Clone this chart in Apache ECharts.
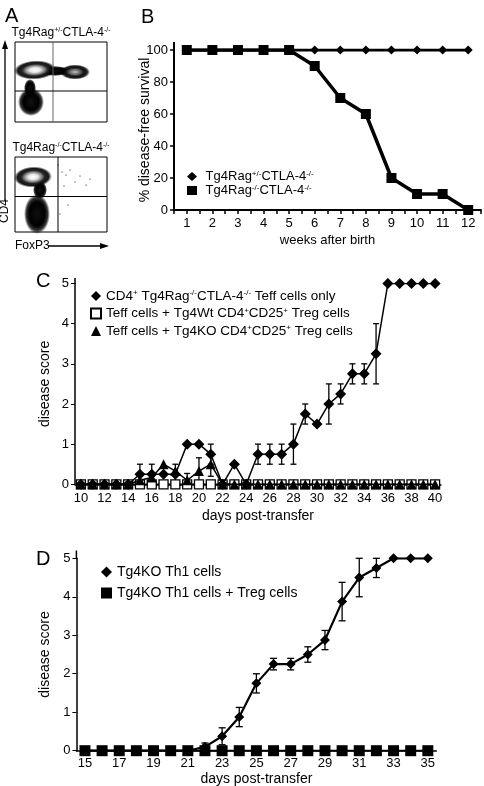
<!DOCTYPE html>
<html><head><meta charset="utf-8">
<script src="https://cdn.jsdelivr.net/npm/echarts@6/dist/echarts.min.js"></script>
<style>html,body{margin:0;padding:0;background:#fff}#c{width:484px;height:786px}</style>
</head><body><div id="c"></div>
<script>
const FONT = 'Liberation Sans, Arial, sans-serif';

// ---------- Panel B data ----------
const weeks = [1,2,3,4,5,6,7,8,9,10,11,12];
const survivalHet = [100,100,100,100,100,100,100,100,100,100,100,100];
const survivalKO  = [100,100,100,100,100,90,70,60,20,10,10,0];

// ---------- Panel C data ----------
const daysC = [10,11,12,13,14,15,16,17,18,19,20,21,22,23,24,25,26,27,28,29,30,31,32,33,34,35,36,37,38,39,40];
const teffOnly    = [0,0,0,0,0,0.25,0.25,0.25,0.25,1,1,0.75,0,0.5,0,0.75,0.75,0.75,1,1.75,1.5,2,2.25,2.75,2.75,3.25,5,5,5,5,5];
const teffOnlyErr = [0,0,0,0,0,0.25,0.25,0,0.25,0,0,0.25,0,0,0,0.25,0.25,0.25,0.5,0.25,0,0.5,0.25,0.25,0.25,0.75,0,0,0,0,0];
const teffWt      = [0,0,0,0,0,0,0,0,0,0,0,0,0,0,0,0,0,0,0,0,0,0,0,0,0,0,0,0,0,0,0];
const teffKO      = [0,0,0,0,0,0.1,0.17,0.5,0.33,0.1,0.33,0.5,0,0,0,0,0,0,0,0,0,0,0,0,0,0,0,0,0,0,0];
const teffKOErr   = [0,0,0,0,0,0,0,0,0,0.17,0.33,0.3,0,0,0,0,0,0,0,0,0,0,0,0,0,0,0,0,0,0,0];

// ---------- Panel D data ----------
const daysD = [15,16,17,18,19,20,21,22,23,24,25,26,27,28,29,30,31,32,33,34,35];
const th1      = [0,0,0,0,0,0,0,0.1,0.375,0.875,1.75,2.25,2.25,2.5,2.875,3.875,4.5,4.75,5,5,5];
const th1Err   = [0,0,0,0,0,0,0,0.1,0.22,0.25,0.25,0.15,0.15,0.2,0.25,0.5,0.5,0.25,0,0,0];
const th1Treg  = [0,0,0,0,0,0,0,0,0,0,0,0,0,0,0,0,0,0,0,0,0];

// names
const nB1 = 'Tg4Rag+/-CTLA-4-/-', nB2 = 'Tg4Rag-/-CTLA-4-/-';
const nC1 = 'CD4+ Tg4Rag-/-CTLA-4-/- Teff cells only';
const nC2 = 'Teff cells + Tg4Wt CD4+CD25+ Treg cells';
const nC3 = 'Teff cells + Tg4KO CD4+CD25+ Treg cells';
const nD1 = 'Tg4KO Th1 cells', nD2 = 'Tg4KO Th1 cells + Treg cells';
const richNames = {};
richNames[nB1] = ' Tg4Rag{s|+/-}CTLA-4{s|-/-}';
richNames[nB2] = ' Tg4Rag{s|-/-}CTLA-4{s|-/-}';
richNames[nC1] = 'CD4{s|+} Tg4Rag{s|-/-}CTLA-4{s|-/-} Teff cells only';
richNames[nC2] = 'Teff cells + Tg4Wt CD4{s|+}CD25{s|+} Treg cells';
richNames[nC3] = 'Teff cells + Tg4KO CD4{s|+}CD25{s|+} Treg cells';
richNames[nD1] = nD1; richNames[nD2] = nD2;

const sup = (fs) => ({ s: { fontSize: fs, lineHeight: fs, verticalAlign: 'top', fontFamily: FONT, color: '#000' } });

function errSeries(xi, yi, vals, errs, capW, lw) {
  const data = vals.map((v, i) => [i, v, errs[i]]).filter(d => d[2] > 0);
  return {
    type: 'custom', xAxisIndex: xi, yAxisIndex: yi, z: 1, silent: true,
    data: data, encode: { x: 0, y: 1 },
    renderItem: function (params, api) {
      const i = api.value(0), v = api.value(1), e = api.value(2);
      const t = api.coord([i, v + e]), b = api.coord([i, v - e]);
      const st = { stroke: '#000', lineWidth: lw };
      return { type: 'group', children: [
        { type: 'line', shape: { x1: t[0], y1: t[1], x2: b[0], y2: b[1] }, style: st },
        { type: 'line', shape: { x1: t[0] - capW, y1: t[1], x2: t[0] + capW, y2: t[1] }, style: st },
        { type: 'line', shape: { x1: b[0] - capW, y1: b[1], x2: b[0] + capW, y2: b[1] }, style: st }
      ]};
    }
  };
}

const axLine = (w) => ({ show: true, lineStyle: { color: '#000', width: w } });
const lbl = (fs, extra) => Object.assign({ color: '#000', fontSize: fs, fontFamily: FONT }, extra || {});

// flow blob helper
function blob(cx, cy, rx, ry, rot, stops) {
  return { type: 'circle', x: cx, y: cy, scaleX: rx / ry, scaleY: 1, rotation: rot || 0,
    shape: { cx: 0, cy: 0, r: ry }, silent: true,
    style: { fill: new echarts.graphic.RadialGradient(0.5, 0.5, 0.5, stops.map(s => ({ offset: s[0], color: s[1] }))) } };
}
const whiteCore = [[0,'#ffffff'],[0.25,'#e6e6e6'],[0.45,'#8a8a8a'],[0.62,'#222'],[0.82,'rgba(0,0,0,0.9)'],[1,'rgba(0,0,0,0)']];
const grayCore  = [[0,'#bdbdbd'],[0.35,'#666'],[0.6,'#111'],[0.82,'rgba(0,0,0,0.85)'],[1,'rgba(0,0,0,0)']];
const blackCore = [[0,'#111'],[0.6,'#000'],[0.82,'rgba(0,0,0,0.8)'],[1,'rgba(0,0,0,0)']];

const g = [];
function ln(x1, y1, x2, y2, w, c) { g.push({ type: 'line', silent: true, shape: { x1, y1, x2, y2 }, style: { stroke: c || '#000', lineWidth: w || 1 } }); }
function txt(x, y, text, fs, extra) { g.push(Object.assign({ type: 'text', x, y, silent: true, style: Object.assign({ text, fontSize: fs, fontFamily: FONT, fill: '#000' }, extra && extra.style || {}) }, extra && extra.el || {})); }

// panel letters
txt(5, 6, 'A', 20);
txt(141, 7, 'B', 20);
txt(36, 271, 'C', 20);
txt(36, 549, 'D', 20);

// flow plot titles
txt(61, 33, 'Tg4Rag{s|+/-}CTLA-4{s|-/-}', 12, { style: { align: 'center', verticalAlign: 'middle', rich: sup(7) } });
txt(61, 148, 'Tg4Rag{s|-/-}CTLA-4{s|-/-}', 12, { style: { align: 'center', verticalAlign: 'middle', rich: sup(7) } });

// top flow plot
g.push({ type: 'rect', silent: true, shape: { x: 15, y: 42, width: 92, height: 80 }, style: { fill: '#fff', stroke: '#000', lineWidth: 1 } });
g.push(blob(31, 102, 13, 14, 0, blackCore));
g.push(blob(30, 88, 6, 9, 0, blackCore));
g.push(blob(55, 71, 15, 5, 0, blackCore));
g.push(blob(35, 70, 21, 9.5, 0.05, whiteCore));
g.push(blob(75, 72, 15, 7.5, 0, grayCore));
ln(53, 42, 53, 122, 1, '#666');
ln(15, 91, 107, 91, 1, '#000');
// bottom flow plot
g.push({ type: 'rect', silent: true, shape: { x: 15, y: 157, width: 92, height: 75 }, style: { fill: '#fff', stroke: '#000', lineWidth: 1 } });
g.push(blob(37, 214, 13, 20, 0, blackCore));
g.push(blob(40, 190, 7, 9, 0, blackCore));
g.push(blob(33, 177, 19, 10.5, 0.05, whiteCore));
[[62,172],[66,175],[70,170],[75,182],[86,185],[80,176],[64,186],[90,179],[68,205],[60,214],[58,165]].forEach(p => g.push({ type: 'circle', silent: true, shape: { cx: p[0], cy: p[1], r: 0.6 }, style: { fill: '#000' } }));
ln(58, 157, 58, 232, 1, '#000');
ln(15, 196.5, 107, 196.5, 1, '#000');
// axes arrows
ln(5, 201, 5, 47, 1.3);
g.push({ type: 'polygon', silent: true, shape: { points: [[5, 40], [2, 49], [8, 49]] }, style: { fill: '#000' } });
txt(5, 211, 'CD4', 12, { el: { rotation: Math.PI / 2 }, style: { align: 'center', verticalAlign: 'middle' } });
txt(15, 246, 'FoxP3', 12, { style: { verticalAlign: 'middle' } });
ln(48, 246, 102, 246, 1.3);
g.push({ type: 'polygon', silent: true, shape: { points: [[109, 246], [100, 243], [100, 249]] }, style: { fill: '#000' } });
// axis extensions above the top tick
ln(174, 42, 174, 51, 2);
ln(76.4, 550.5, 76.4, 559, 1.5);
ln(75, 278, 75, 284, 1.5);

const option = {
  animation: false,
  backgroundColor: '#fff',
  textStyle: { fontFamily: FONT },
  grid: [
    { left: 174, top: 50, width: 307, height: 160, containLabel: false, outerBoundsMode: 'none' },
    { left: 75, top: 283.5, width: 366, height: 200.8, containLabel: false, outerBoundsMode: 'none' },
    { left: 76.4, top: 558.3, width: 360, height: 192.4, containLabel: false, outerBoundsMode: 'none' }
  ],
  xAxis: [
    { gridIndex: 0, type: 'value', min: 0.5, max: 12.5, interval: 0.5,
      axisLine: axLine(2), axisTick: { show: true, length: 4, lineStyle: { color: '#000', width: 1.5 } },
      axisLabel: lbl(13, { margin: 7, formatter: v => Number.isInteger(v) ? String(v) : '' }),
      splitLine: { show: false }, nameMoveOverlap: false,
      name: 'weeks after birth', nameLocation: 'middle', nameGap: 24, nameTextStyle: lbl(13) },
    { gridIndex: 1, type: 'category', data: daysC.map(String), boundaryGap: true,
      axisLine: axLine(1.5), axisTick: { show: true, alignWithLabel: true, interval: 0, length: 3, lineStyle: { color: '#000' } },
      axisLabel: lbl(13, { margin: 8, interval: 1 }), nameMoveOverlap: false,
      name: 'days post-transfer', nameLocation: 'middle', nameGap: 25, nameTextStyle: lbl(14) },
    { gridIndex: 2, type: 'category', data: daysD.map(String), boundaryGap: true,
      axisLine: axLine(1.5), axisTick: { show: true, alignWithLabel: true, interval: 0, length: 3, lineStyle: { color: '#000' } },
      axisLabel: lbl(13, { margin: 6, interval: 1 }), nameMoveOverlap: false,
      name: 'days post-transfer', nameLocation: 'middle', nameGap: 21, nameTextStyle: lbl(14) }
  ],
  yAxis: [
    { gridIndex: 0, type: 'value', min: 0, max: 100, interval: 20,
      axisLine: axLine(2), axisTick: { show: true, length: 4, lineStyle: { color: '#000', width: 1.5 } },
      axisLabel: lbl(13, { margin: 6 }), splitLine: { show: false }, nameMoveOverlap: false,
      name: '% disease-free survival', nameLocation: 'middle', nameGap: 22, nameTextStyle: lbl(14) },
    { gridIndex: 1, type: 'value', min: 0, max: 5, interval: 1,
      axisLine: axLine(1.5), axisTick: { show: true, length: 4, lineStyle: { color: '#000' } },
      axisLabel: lbl(13, { margin: 6 }), splitLine: { show: false }, nameMoveOverlap: false,
      name: 'disease score', nameLocation: 'middle', nameGap: 23, nameTextStyle: lbl(14) },
    { gridIndex: 2, type: 'value', min: 0, max: 5, interval: 1,
      axisLine: axLine(1.5), axisTick: { show: true, length: 4, lineStyle: { color: '#000' } },
      axisLabel: lbl(13, { margin: 6 }), splitLine: { show: false }, nameMoveOverlap: false,
      name: 'disease score', nameLocation: 'middle', nameGap: 24, nameTextStyle: lbl(14) }
  ],
  legend: [
    { left: 187, top: 170, padding: 0, orient: 'vertical', itemGap: 1, itemWidth: 10, itemHeight: 9, selectedMode: false,
      data: [{ name: nB1, icon: 'diamond' }, { name: nB2, icon: 'rect' }],
      formatter: n => richNames[n], textStyle: lbl(13, { rich: sup(8) }) },
    { left: 90, top: 289, padding: 0, orient: 'vertical', itemGap: 3.5, itemWidth: 10, itemHeight: 10, selectedMode: false,
      data: [{ name: nC1, icon: 'diamond' }, { name: nC2, icon: 'rect' }, { name: nC3, icon: 'triangle' }],
      formatter: n => richNames[n], textStyle: lbl(13.5, { rich: sup(8) }) },
    { left: 101, top: 565, padding: 0, orient: 'vertical', itemGap: 7, itemWidth: 11, itemHeight: 11, selectedMode: false,
      data: [{ name: nD1, icon: 'diamond' }, { name: nD2, icon: 'rect' }],
      formatter: n => richNames[n], textStyle: lbl(14) }
  ],
  graphic: { elements: g },
  series: [
    // B
    { name: nB1, type: 'line', xAxisIndex: 0, yAxisIndex: 0, z: 3, data: weeks.map((w, i) => [w, survivalHet[i]]),
      symbol: 'diamond', symbolSize: 9, showAllSymbol: true, lineStyle: { color: '#000', width: 3 }, itemStyle: { color: '#000' } },
    { name: nB2, type: 'line', xAxisIndex: 0, yAxisIndex: 0, z: 4, data: weeks.map((w, i) => [w, survivalKO[i]]),
      symbol: 'rect', symbolSize: 10, showAllSymbol: true, lineStyle: { color: '#000', width: 3.5 }, itemStyle: { color: '#000' } },
    // C
    errSeries(1, 1, teffKO, teffKOErr, 3, 1.3),
    errSeries(1, 1, teffOnly, teffOnlyErr, 3, 1.3),
    { name: nC2, type: 'line', xAxisIndex: 1, yAxisIndex: 1, z: 2, data: teffWt, symbol: 'rect', symbolSize: 9, showAllSymbol: true,
      lineStyle: { color: '#000', width: 1.5 }, itemStyle: { color: '#fff', borderColor: '#000', borderWidth: 1.3 } },
    { name: nC3, type: 'line', xAxisIndex: 1, yAxisIndex: 1, z: 3, data: teffKO, symbol: 'triangle', symbolSize: 10, showAllSymbol: true,
      lineStyle: { color: '#000', width: 1.5 }, itemStyle: { color: '#000' } },
    { name: nC1, type: 'line', xAxisIndex: 1, yAxisIndex: 1, z: 4, data: teffOnly, symbol: 'diamond', symbolSize: 11, showAllSymbol: true,
      lineStyle: { color: '#000', width: 1.5 }, itemStyle: { color: '#000' } },
    // D
    errSeries(2, 2, th1, th1Err, 3.5, 1.3),
    { name: nD1, type: 'line', xAxisIndex: 2, yAxisIndex: 2, z: 3, data: th1, symbol: 'diamond', symbolSize: 10, showAllSymbol: true,
      lineStyle: { color: '#000', width: 2.2 }, itemStyle: { color: '#000' } },
    { name: nD2, type: 'line', xAxisIndex: 2, yAxisIndex: 2, z: 4, data: th1Treg, symbol: 'rect', symbolSize: 11, showAllSymbol: true,
      lineStyle: { color: '#000', width: 2 }, itemStyle: { color: '#000' } }
  ]
};
const chart = echarts.init(document.getElementById('c'), null, { renderer: 'canvas' });
chart.setOption(option);
</script></body></html>
